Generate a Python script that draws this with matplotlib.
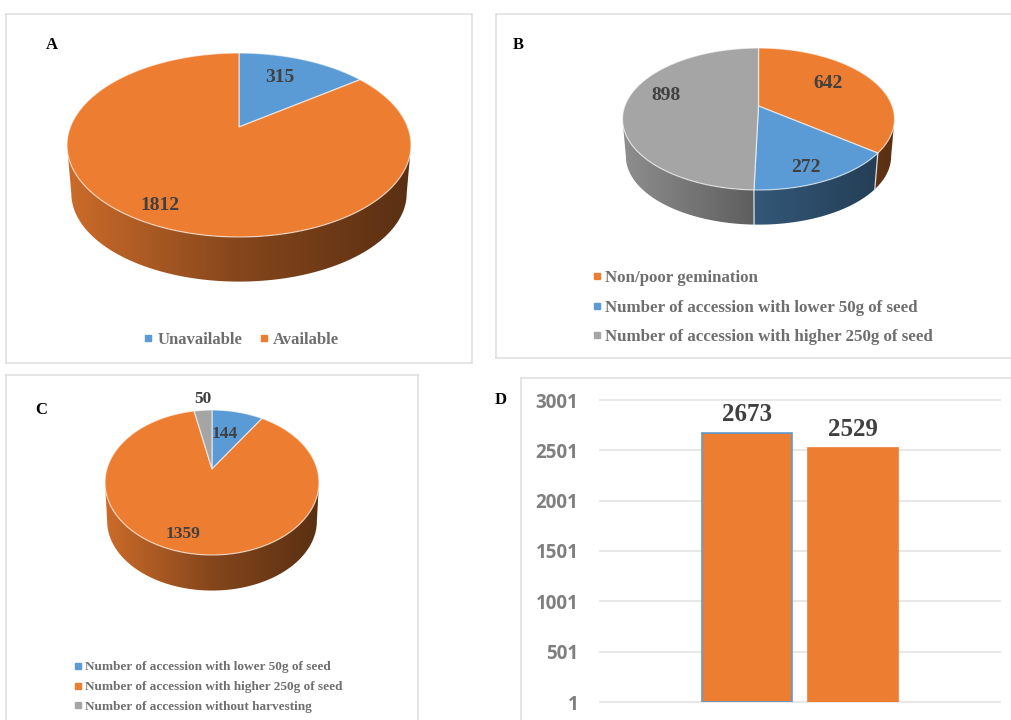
import numpy as np
import matplotlib
matplotlib.use("Agg")
import matplotlib.pyplot as plt
from matplotlib.lines import Line2D
from matplotlib.patches import Polygon

W, H = 1011, 720
SERIF = "Liberation Serif"
ORANGE, BLUE, GRAY = "#ED7D31", "#5B9BD5", "#A5A5A5"

# Panel data
a_labels = ["Unavailable", "Available"]
a_values = [315, 1812]
b_labels = ["Non/poor gemination",
            "Number of accession with lower 50g of seed",
            "Number of accession with higher 250g of seed"]
b_values = [642, 272, 898]
c_labels = ["Number of accession with lower 50g of seed",
            "Number of accession with higher 250g of seed",
            "Number of accession without harvesting"]
c_values = [144, 1359, 50]
d_values = [2673, 2529]
d_ticks = [1, 501, 1001, 1501, 2001, 2501, 3001]

fig = plt.figure(figsize=(W / 100, H / 100), dpi=100, facecolor="white")


def panel_axes(left, top, right, bottom):
    """Framed axes whose data units are figure pixels."""
    ax = fig.add_axes([left / W, 1 - bottom / H, (right - left) / W, (bottom - top) / H])
    ax.set_xlim(left, right)
    ax.set_ylim(bottom, top)
    ax.set_xticks([])
    ax.set_yticks([])
    for spine in ax.spines.values():
        spine.set_color("#DEDEDE")
        spine.set_linewidth(1.1)
    return ax


def wall_gradient(colour):
    """One-row image darkening a slice colour from left to right."""
    frac = np.linspace(0, 1, 256)
    factor = np.interp(frac, [0, 0.5, 1], [0.86, 0.56, 0.38])
    return (np.array(matplotlib.colors.to_rgb(colour))[None, :] * factor[:, None])[None, :, :]


def tilted_pie(ax, values, colours, cx, cy, up, down, rx, depth, base_x=0.975, base_y=0.96):
    """Pie on a receding disc: a projective map gives the near edge more room than the far edge."""
    skew = (down - up) / (down + up)
    ay = up * (1 + skew)
    ax_scale = rx * np.sqrt(1 - skew ** 2)

    def project(theta):
        den = 1 + skew * np.cos(theta)
        return ax_scale * np.sin(theta) / den, -ay * np.cos(theta) / den

    edges = np.concatenate([[0], np.cumsum(values)]) / np.sum(values) * 2 * np.pi
    xlim, ylim = ax.get_xlim(), ax.get_ylim()
    # The wall is visible between the two widest points of the rim
    near_from, near_to = np.arccos(-skew), 2 * np.pi - np.arccos(-skew)

    # Side wall: a horizontal gradient clipped to the visible strip of each slice
    for start, end, colour in zip(edges[:-1], edges[1:], colours):
        lo, hi = max(start, near_from), min(end, near_to)
        if hi <= lo:
            continue
        xs, ys = project(np.linspace(lo, hi, 200))
        strip = np.vstack([np.column_stack([cx + xs, cy + ys]),
                           np.column_stack([cx + xs * base_x, cy + ys * base_y + depth])[::-1]])
        image = ax.imshow(wall_gradient(colour), extent=(cx - rx, cx + rx, cy + down + depth, cy - up),
                          aspect="auto", interpolation="bilinear", zorder=1)
        image.set_clip_path(Polygon(strip, closed=True, transform=ax.transData))
    ax.set_xlim(xlim)
    ax.set_ylim(ylim)

    # Slice seams on the visible part of the wall
    for edge in edges[:-1]:
        if near_from < edge < near_to:
            x0, y0 = project(edge)
            ax.add_line(Line2D([cx + x0, cx + x0 * base_x],
                               [cy + y0, cy + y0 * base_y + depth],
                               color="white", alpha=0.8, lw=0.9, zorder=2))

    # Top face
    for start, end, colour in zip(edges[:-1], edges[1:], colours):
        theta = np.linspace(start, end, max(int((end - start) * 80), 2))
        xs, ys = project(theta)
        pts = np.vstack([[cx, cy], np.column_stack([cx + xs, cy + ys])])
        ax.add_patch(Polygon(pts, closed=True, facecolor=colour, edgecolor=(1, 1, 1, 0.6),
                             linewidth=0.9, joinstyle="round", zorder=3))


def value_labels(ax, values, positions, size):
    for value, (x, y) in zip(values, positions):
        ax.text(x, y, str(value), ha="center", va="center", family=SERIF,
                weight="bold", fontsize=size, color="#404040", zorder=4)


def key(ax, labels, colours, anchor, size, **kwargs):
    handles = [Line2D([], [], ls="none", marker="s", color=c, markersize=4.2) for c in colours]
    ax.legend(handles, labels, loc="center left", bbox_to_anchor=anchor,
              bbox_transform=ax.transData, frameon=False, borderpad=0, borderaxespad=0,
              prop={"family": SERIF, "weight": "bold", "size": size},
              labelcolor="#6E6E6E", handlelength=0.6, **kwargs)


def panel_letter(ax, letter, x, y):
    ax.text(x, y, letter, ha="center", va="center", family=SERIF, weight="bold",
            fontsize=12, color="black", clip_on=False)


# Panel A
ax_a = panel_axes(5.5, 13.5, 472, 363)
tilted_pie(ax_a, a_values, [BLUE, ORANGE], 239, 127, 74, 110, 172, 49)
value_labels(ax_a, a_values, [(280, 78), (160, 206)], 14)
panel_letter(ax_a, "A", 52, 45)
key(ax_a, a_labels, [BLUE, ORANGE], (143, 340), 12, ncol=2, handletextpad=0.25, columnspacing=1.0)

# Panel B
ax_b = panel_axes(496, 13.5, 1035, 358)
tilted_pie(ax_b, b_values, [ORANGE, BLUE, GRAY], 758.5, 106, 58, 84, 136, 38)
value_labels(ax_b, b_values, [(828, 84), (806, 168), (666, 96)], 14)
panel_letter(ax_b, "B", 518, 45)
key(ax_b, b_labels, [ORANGE, BLUE, GRAY], (592, 307.5), 12.2, handletextpad=0.18, labelspacing=0.8)

# Panel C
ax_c = panel_axes(5.5, 375, 418, 745)
tilted_pie(ax_c, c_values, [BLUE, ORANGE, GRAY], 212, 469, 59, 86, 107, 39, base_x=0.98)
value_labels(ax_c, c_values, [(225, 434), (183, 534), (203, 399)], 12.5)
panel_letter(ax_c, "C", 41, 410)
key(ax_c, c_labels, [BLUE, ORANGE, GRAY], (74, 687), 9.5, handletextpad=0.23, labelspacing=0.57)

# Panel D
ax_d = panel_axes(521, 378, 1035, 745)
panel_letter(ax_d, "D", 501, 400)

bars = fig.add_axes([600 / W, 1 - 702 / H, 400 / W, 302 / H], facecolor="none")
positions = np.arange(len(d_values))
bars.bar(positions, np.array(d_values) - d_ticks[0], bottom=d_ticks[0], width=0.85,
         color=ORANGE, edgecolor=[BLUE, ORANGE], linewidth=1.2, zorder=3)
bars.set_xlim(-147 / 106, 1 + 147 / 106)
bars.set_ylim(d_ticks[0], d_ticks[-1])
bars.set_yticks(d_ticks)
bars.set_xticks([])
bars.grid(axis="y", color="#E6E6E6", linewidth=1.3, zorder=0)
for gridline in bars.get_ygridlines():
    gridline.set_clip_on(False)
bars.tick_params(axis="y", length=0, pad=15.5, labelsize=13.5, labelcolor="#7F7F7F")
for label in bars.get_yticklabels():
    label.set_family("Open Sans")
    label.set_weight("bold")
for spine in bars.spines.values():
    spine.set_visible(False)
for x, value in zip(positions, d_values):
    bars.annotate(str(value), (x, value), xytext=(0, 13), textcoords="offset points",
                  ha="center", va="center", family=SERIF, weight="bold", fontsize=18, color="#404040")

fig.savefig("out.png", dpi=100)
